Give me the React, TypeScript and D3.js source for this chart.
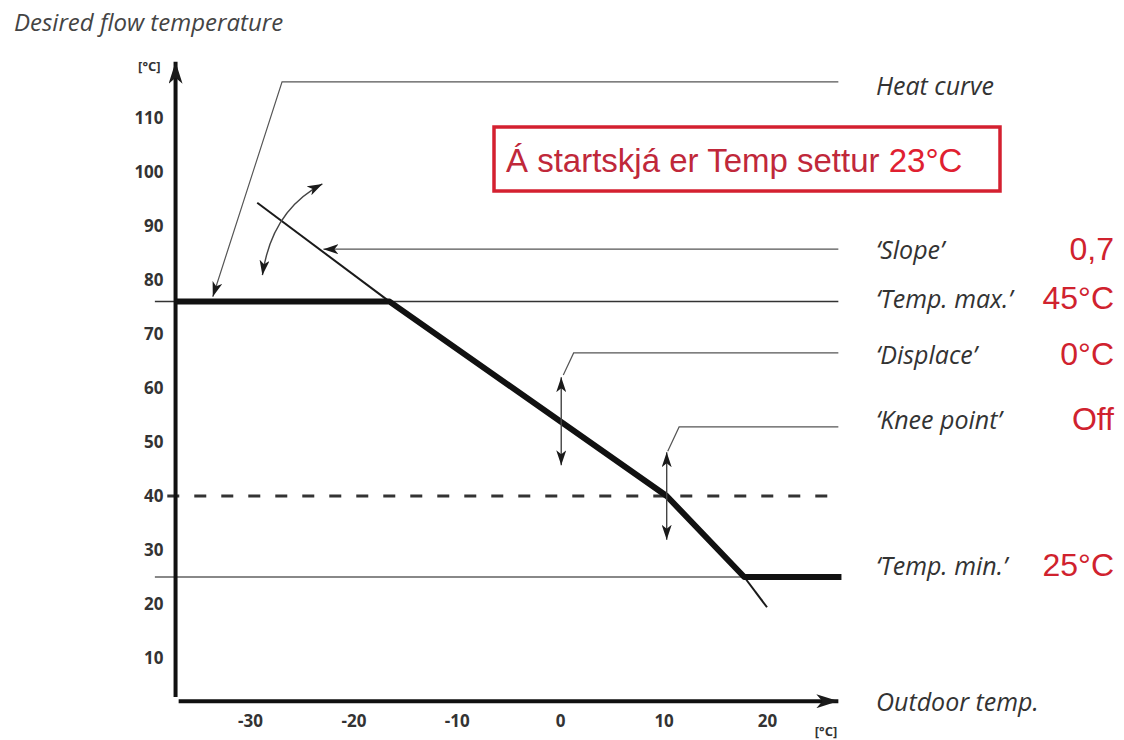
import React, { useEffect, useRef } from 'react';
import * as d3 from 'd3';

// axis values
const xTicks = [-30, -20, -10, 0, 10, 20];
const yTicks = [10, 20, 30, 40, 50, 60, 70, 80, 90, 100, 110];

// heat curve (outdoor temp, flow temp)
const heatCurve: [number, number][] = [[-37.2, 76], [-16.5, 76], [10.3, 40], [17.8, 25], [27.2, 25]];
const slopeLine: [number, number][] = [[-29.3, 94.3], [-16.5, 76]];
const tailLine: [number, number][] = [[17.8, 25], [20, 19.4]];
const tempMax = 76;
const tempMin = 25;
const kneeLevel = 40;

// parameter labels on the right
const paramLabels = ['\u2018Slope\u2019', '\u2018Temp. max.\u2019', '\u2018Displace\u2019', '\u2018Knee point\u2019', '\u2018Temp. min.\u2019'];
const paramValues = ['0,7', '45°C', '0°C', 'Off', '25°C'];
const paramLabelY = [85.8, 76.6, 66.3, 54.2, 27.2];

// leader lines and arrows (data units)
const heatLeader: [number, number][] = [[-33.6, 76.9], [-26.9, 116.7], [26.9, 116.7]];
const slopeLeader: [number, number][] = [[-22.9, 85.7], [26.9, 85.7]];
const displaceLeader: [number, number][] = [[0.3, 62.4], [1.3, 66.5], [26.9, 66.5]];
const kneeLeader: [number, number][] = [[10.4, 48.3], [11.5, 52.8], [26.9, 52.8]];
const displaceArrow: [number, number][] = [[0.1, 62], [0.1, 45.7]];
const kneeArrow: [number, number][] = [[10.3, 48.1], [10.3, 31.9]];
const slopeArc: [number, number][] = [[-28.8, 80.9], [-27.9, 92.9], [-23, 97.8]];

const App = () => {
  const svgRef = useRef<SVGSVGElement>(null);

  useEffect(() => {
    document.body.style.margin = '0';
    const width = 1124;
    const height = 740;

    const svg = d3.select(svgRef.current)
      .attr('width', width)
      .attr('height', height);
    svg.selectAll('*').remove();

    const x = d3.scaleLinear().domain([-30, 20]).range([250, 767]);
    const y = d3.scaleLinear().domain([10, 110]).range([658, 118]);
    const axisX = -37.2; // where the vertical axis sits
    const axisY = 2; // where the horizontal axis sits
    const rightEnd = 26.9;

    const line = d3.line<[number, number]>().x(d => x(d[0])).y(d => y(d[1]));

    // arrow markers
    const defs = svg.append('defs');
    const marker = (id: string, len: number, half: number, notch: number) => {
      defs.append('marker')
        .attr('id', id)
        .attr('markerUnits', 'userSpaceOnUse')
        .attr('viewBox', `0 ${-half} ${len} ${half * 2}`)
        .attr('markerWidth', len)
        .attr('markerHeight', half * 2)
        .attr('refX', len)
        .attr('refY', 0)
        .attr('orient', 'auto-start-reverse')
        .append('path')
        .attr('d', `M0,${-half} L${len},0 L0,${half} L${notch},0 Z`)
        .attr('fill', '#1a1a1a');
    };
    marker('small', 15, 5, 4);
    marker('big', 22, 7, 6);

    // title
    svg.append('text')
      .attr('x', 14).attr('y', 31)
      .attr('font-family', 'Open Sans').attr('font-style', 'italic')
      .attr('font-size', 24).attr('fill', '#444')
      .text('Desired flow temperature');

    // reference lines
    svg.append('line')
      .attr('x1', x(-39.2)).attr('x2', x(rightEnd))
      .attr('y1', y(tempMax)).attr('y2', y(tempMax))
      .attr('stroke', '#333').attr('stroke-width', 1.5);
    svg.append('line')
      .attr('x1', x(-39.2)).attr('x2', x(17.8))
      .attr('y1', y(tempMin)).attr('y2', y(tempMin))
      .attr('stroke', '#888').attr('stroke-width', 2);
    svg.append('line')
      .attr('x1', x(-38)).attr('x2', x(27.2))
      .attr('y1', y(kneeLevel)).attr('y2', y(kneeLevel))
      .attr('stroke', '#333').attr('stroke-width', 3)
      .attr('stroke-dasharray', '12 15');

    // axes
    svg.append('line')
      .attr('x1', x(axisX)).attr('x2', x(axisX))
      .attr('y1', y(2.8)).attr('y2', y(120.4))
      .attr('stroke', '#111').attr('stroke-width', 4)
      .attr('marker-end', 'url(#big)');
    svg.append('line')
      .attr('x1', x(-36.9)).attr('x2', x(rightEnd))
      .attr('y1', y(axisY)).attr('y2', y(axisY))
      .attr('stroke', '#111').attr('stroke-width', 4)
      .attr('marker-end', 'url(#big)');

    const yAxis = svg.append('g')
      .attr('transform', `translate(${x(axisX)},0)`)
      .call(d3.axisLeft(y).tickValues(yTicks).tickSize(0).tickPadding(12));
    const xAxis = svg.append('g')
      .attr('transform', `translate(0,${y(axisY)})`)
      .call(d3.axisBottom(x).tickValues(xTicks).tickSize(0).tickPadding(14).tickFormat(d => String(d)));
    [yAxis, xAxis].forEach(g => {
      g.select('.domain').remove();
      g.selectAll('text')
        .attr('font-family', 'Open Sans').attr('font-weight', 700)
        .attr('font-size', 17).attr('fill', '#333');
    });

    svg.append('text')
      .attr('x', x(axisX) - 15).attr('y', 71)
      .attr('text-anchor', 'end')
      .attr('font-family', 'Open Sans').attr('font-weight', 700)
      .attr('font-size', 13).attr('fill', '#333')
      .text('[°C]');
    svg.append('text')
      .attr('x', 826).attr('y', 736)
      .attr('text-anchor', 'middle')
      .attr('font-family', 'Open Sans').attr('font-weight', 700)
      .attr('font-size', 13).attr('fill', '#333')
      .text('[°C]');

    // heat curve
    svg.append('path')
      .attr('d', line(slopeLine))
      .attr('fill', 'none').attr('stroke', '#1a1a1a').attr('stroke-width', 2);
    svg.append('path')
      .attr('d', line(tailLine))
      .attr('fill', 'none').attr('stroke', '#1a1a1a').attr('stroke-width', 2);
    svg.append('path')
      .attr('d', line(heatCurve))
      .attr('fill', 'none').attr('stroke', '#111').attr('stroke-width', 6)
      .attr('stroke-linejoin', 'round');

    // leader lines
    const leaders: [number, number][][] = [heatLeader, slopeLeader, displaceLeader, kneeLeader];
    leaders.forEach((pts, i) => {
      svg.append('path')
        .attr('d', line(pts))
        .attr('fill', 'none').attr('stroke', '#555').attr('stroke-width', 1.2)
        .attr('marker-start', i < 2 ? 'url(#small)' : null);
    });

    // double arrows
    [displaceArrow, kneeArrow].forEach(pts => {
      svg.append('path')
        .attr('d', line(pts))
        .attr('fill', 'none').attr('stroke', '#444').attr('stroke-width', 1.4)
        .attr('marker-start', 'url(#small)')
        .attr('marker-end', 'url(#small)');
    });
    const [a0, a1, a2] = slopeArc;
    svg.append('path')
      .attr('d', `M${x(a0[0])},${y(a0[1])} Q${x(a1[0])},${y(a1[1])} ${x(a2[0])},${y(a2[1])}`)
      .attr('fill', 'none').attr('stroke', '#444').attr('stroke-width', 1.4)
      .attr('marker-start', 'url(#small)')
      .attr('marker-end', 'url(#small)');

    // right-hand labels
    const labelX = 876;
    const labelFont = 25;
    svg.append('text')
      .attr('x', labelX).attr('y', y(116.1))
      .attr('dominant-baseline', 'central')
      .attr('font-family', 'Open Sans').attr('font-style', 'italic')
      .attr('font-size', labelFont).attr('fill', '#333')
      .text('Heat curve');
    svg.append('text')
      .attr('x', labelX).attr('y', y(axisY))
      .attr('dominant-baseline', 'central')
      .attr('font-family', 'Open Sans').attr('font-style', 'italic')
      .attr('font-size', labelFont).attr('fill', '#333')
      .text('Outdoor temp.');

    paramLabels.forEach((label, i) => {
      svg.append('text')
        .attr('x', labelX).attr('y', y(paramLabelY[i]))
        .attr('dominant-baseline', 'central')
        .attr('font-family', 'Open Sans').attr('font-style', 'italic')
        .attr('font-size', labelFont).attr('fill', '#333')
        .text(label);
      svg.append('text')
        .attr('x', 1114).attr('y', y(paramLabelY[i]))
        .attr('dominant-baseline', 'central')
        .attr('text-anchor', 'end')
        .attr('font-family', 'Liberation Sans')
        .attr('font-size', 32).attr('fill', '#d0222e')
        .text(paramValues[i]);
    });

    // red note box
    svg.append('rect')
      .attr('x', 494).attr('y', 127).attr('width', 506).attr('height', 64)
      .attr('fill', 'none').attr('stroke', '#d42030').attr('stroke-width', 3.5);
    const note = svg.append('text')
      .attr('x', 506).attr('y', 172)
      .attr('font-family', 'Liberation Sans')
      .attr('font-size', 33).attr('fill', '#c0283a');
    note.append('tspan').text('Á startskjá er Temp settur ');
    note.append('tspan').attr('fill', '#e02030').text('23°C');
  }, []);

  return <svg ref={svgRef} />;
};

export default App;
